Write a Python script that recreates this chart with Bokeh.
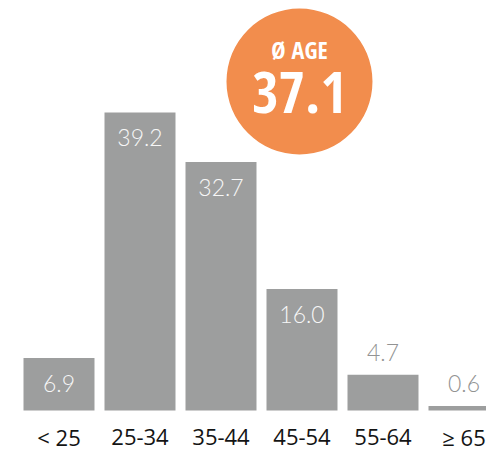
from bokeh.plotting import figure
from bokeh.models import Range1d, ColumnDataSource
from bokeh.core.properties import value
from bokeh.embed import file_html
from bokeh.resources import INLINE

categories = ["< 25", "25-34", "35-44", "45-54", "55-64", "\u2265 65"]
shares = [6.9, 39.2, 32.7, 16.0, 4.7, 0.6]
avg_age = 37.1
avg_title = "\u00d8 AGE"

BAR = "#9d9e9e"
ORANGE = "#f28d4d"

xs = list(range(len(categories)))
inside = [v >= 6 for v in shares]
label_y = [v - 3.3 if ins else v + 2.9 for v, ins in zip(shares, inside)]
label_col = ["#f7f7f7" if ins else "#929393" for ins in inside]
labels = [f"{v:.1f}" for v in shares]

src = ColumnDataSource(dict(x=xs, top=shares, ly=label_y, lc=label_col, lab=labels,
                            cat=categories, cy=[-3.5] * len(xs)))

p = figure(width=486, height=451, output_backend="svg", toolbar_location=None,
           x_range=Range1d(-0.7222, 5.2778), y_range=Range1d(-5.39, 53.95),
           min_border=0, outline_line_color=None)
p.axis.visible = False
p.grid.visible = False
p.background_fill_color = "white"

p.vbar(x="x", top="top", bottom=0, width=71 / 81, source=src, color=BAR, line_color=None)
p.text(x="x", y="ly", text="lab", source=src, text_color="lc", text_align="center",
       text_baseline="middle", text_font=value("Lato Light"), text_font_size="23px")
p.text(x="x", y="cy", text="cat", source=src, text_color="#141414", text_align="center",
       text_baseline="middle", text_font=value("Open Sans"), text_font_size="22px")

p.scatter(x=[2.969], y=[43.29], size=146, color=ORANGE, line_color=None)
p.text(x=[2.969], y=[47.5], text=[avg_title], text_color="white", text_align="center",
       text_baseline="middle", text_font=value("Open Sans Condensed"),
       text_font_style="bold", text_font_size="24px")
p.text(x=[2.969], y=[41.8], text=[f"{avg_age:.1f}"], text_color="white", text_align="center",
       text_baseline="middle", text_font=value("Open Sans Condensed"),
       text_font_style="bold", text_font_size="57px")

open("out.html", "w").write(file_html(p, INLINE))
